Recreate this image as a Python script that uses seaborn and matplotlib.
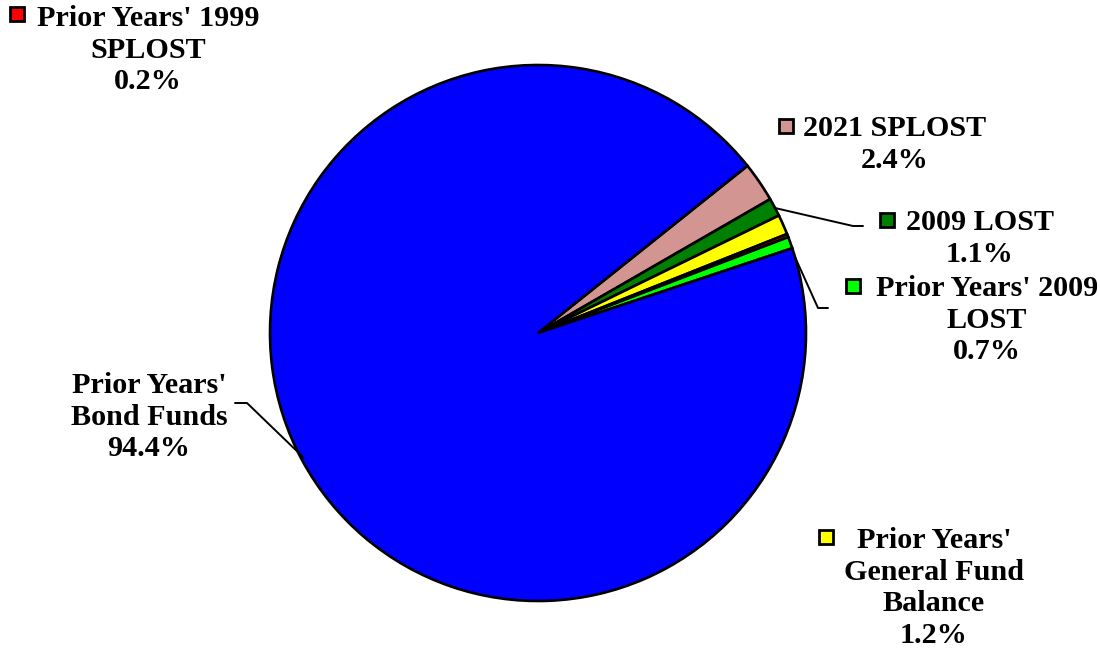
import matplotlib
matplotlib.use("Agg")
import matplotlib.pyplot as plt
import seaborn as sns

# slices, clockwise from the top-right boundary
labels = ["2021 SPLOST", "2009 LOST", "Prior Years'\nGeneral Fund\nBalance",
          "Prior Years' 1999\nSPLOST", "Prior Years' 2009\nLOST", "Prior Years'\nBond Funds"]
values = [2.4, 1.1, 1.2, 0.2, 0.7, 94.4]
colors = ["#D29591", "#008000", "#FFFF00", "#FF0000", "#00FF00", "#0000FF"]

sns.set_theme(style="white")
plt.rcParams['font.family'] = ['Liberation Serif', 'DejaVu Serif']

fig = plt.figure(figsize=(11, 6.52), dpi=100)
ax = fig.add_axes([0, 0, 1, 1])

ax.pie(values, colors=colors, startangle=-38.6, counterclock=True,
       center=(538, 333), radius=268,
       wedgeprops=dict(edgecolor='black', linewidth=1.9))
ax.set_xlim(0, 1100)
ax.set_ylim(652, 0)
ax.set_aspect('equal')
ax.axis('off')

# label placement (pixel coords): text center x, first line y, marker x, marker y
layout = {
    0: (895, 128, 786, 126),
    1: (980, 222, 887, 220),
    2: (934, 540, 826, 537),
    3: (148, 18, 17, 14),
    4: (987, 288, 853, 286),
    5: (149, 385, None, None),
}
fs = 21.7
for i, (lab, val, col) in enumerate(zip(labels, values, colors)):
    tx, ty, mx, my = layout[i]
    ax.text(tx, ty - 13, f"{lab}\n{val:.1f}%", ha='center', va='top',
            fontsize=fs, fontweight='bold', linespacing=1.22, color='black')
    if mx is not None:
        ax.plot(mx, my, marker='s', markersize=10, markerfacecolor=col,
                markeredgecolor='black', markeredgewidth=2, linestyle='none')

# leader lines
leaders = [
    ([775, 853, 863], [208, 226, 226]),
    ([795, 818, 828], [257, 308, 308]),
    ([303, 247, 235], [457, 403, 403]),
]
for xs, ys in leaders:
    ax.plot(xs, ys, color='black', linewidth=1.4)

fig.savefig("out.png", dpi=100)
